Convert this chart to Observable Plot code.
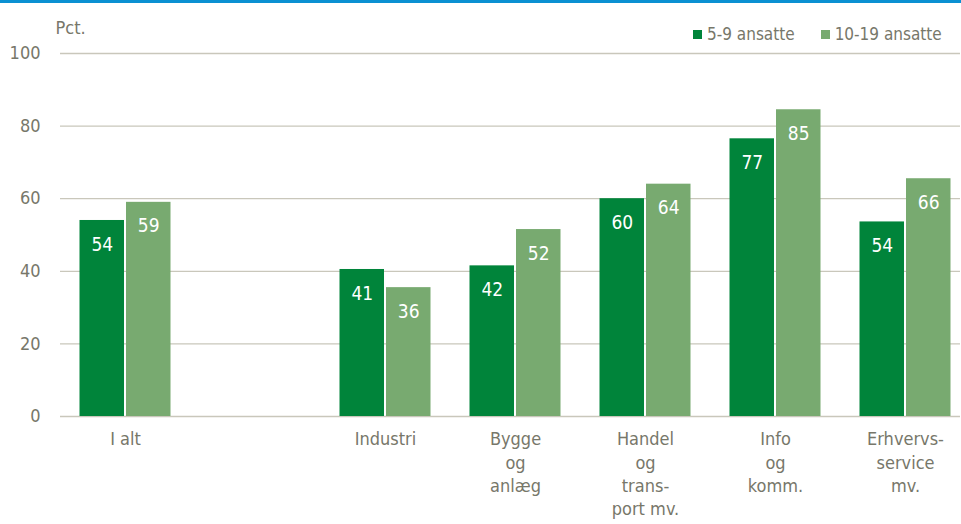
<!DOCTYPE html>
<html>
<head>
<meta charset="utf-8">
<script src="https://cdn.jsdelivr.net/npm/d3@7"></script>
<script src="https://cdn.jsdelivr.net/npm/@observablehq/plot@0.6"></script>
<style>
  html, body { margin: 0; padding: 0; background: #fff; }
  #wrap { position: relative; width: 961px; height: 524px; overflow: hidden;
    font-family: "Liberation Sans Narrow", "Arial Narrow", "DejaVu Sans Condensed", "Liberation Sans", sans-serif; }
  #topline { position: absolute; left: 0; top: 0; width: 961px; height: 3px; background: #0a90d2; }
  #legend { position: absolute; top: 24px; left: 693px; display: flex; align-items: center;
    font-size: 17px; color: #77776a; white-space: nowrap; }
  .sw { display: inline-block; width: 9px; height: 9px; margin-right: 5px; }
  .item { display: flex; align-items: center; margin-right: 26px; }
  svg { display: block; }
</style>
</head>
<body>
<div id="wrap">
  <div id="topline"></div>
  <div id="chart"></div>
  <div id="legend"></div>
</div>
<script>
const categories = ["I alt", "gap", "Industri", "Bygge og anlæg", "Handel og transport mv.", "Info og komm.", "Erhvervsservice mv."];
const tickLabels = ["I alt", "", "Industri", "Bygge\nog\nanlæg", "Handel\nog\ntrans-\nport mv.", "Info\nog\nkomm.", "Erhvervs-\nservice\nmv."];
const seriesNames = ["5-9 ansatte", "10-19 ansatte"];
const seriesColors = ["#00843a", "#78aa70"];
const values5to9 = [54, null, 40.5, 41.5, 60, 76.5, 53.6];
const values10to19 = [59, null, 35.5, 51.5, 64, 84.5, 65.5];
const yTicks = [0, 20, 40, 60, 80, 100];

const textColor = "#77776a";
const gridColor = "#c9c7bb";

const rows = (vals) => categories.map((c, i) => ({cat: c, v: vals[i]})).filter(d => d.v != null);
const dark = rows(values5to9);
const light = rows(values10to19);
const labelOf = new Map(categories.map((c, i) => [c, tickLabels[i]]));

const chart = Plot.plot({
  width: 961,
  height: 524,
  marginLeft: 60,
  marginRight: 1,
  marginTop: 53,
  marginBottom: 108,
  style: {fontFamily: "inherit", color: textColor, background: "transparent", overflow: "visible"},
  x: {domain: categories, range: [60, 970], padding: 0, axis: null},
  y: {domain: [0, 100], axis: null},
  marks: [
    Plot.ruleY(yTicks.filter(t => t > 0), {stroke: gridColor, strokeWidth: 1.3}),
    Plot.ruleY([0], {stroke: gridColor, strokeWidth: 1.6}),
    Plot.barY(dark, {x: "cat", y: "v", fill: seriesColors[0], insetLeft: 19.5, insetRight: 66}),
    Plot.barY(light, {x: "cat", y: "v", fill: seriesColors[1], insetLeft: 66, insetRight: 19.5}),
    Plot.text(dark, {x: "cat", y: "v", text: d => String(Math.round(d.v)), dx: -23.2, dy: 24, fill: "white", fontSize: 19, lineAnchor: "middle"}),
    Plot.text(light, {x: "cat", y: "v", text: d => String(Math.round(d.v)), dx: 23.2, dy: 24, fill: "white", fontSize: 19, lineAnchor: "middle"}),
    Plot.axisY({ticks: yTicks, tickSize: 0, tickPadding: 20, fontSize: 18, fill: textColor, label: null}),
    Plot.axisX({tickSize: 0, tickPadding: 12, fontSize: 18, fill: textColor, label: null, lineHeight: 1.3, tickFormat: d => labelOf.get(d)}),
    Plot.text(["Pct."], {frameAnchor: "top-left", dx: -5, dy: -20, textAnchor: "start", lineAnchor: "bottom", fontSize: 18, fill: textColor})
  ]
});
document.getElementById("chart").appendChild(chart);

const legend = document.getElementById("legend");
seriesNames.forEach((name, i) => {
  const item = document.createElement("span");
  item.className = "item";
  const sw = document.createElement("span");
  sw.className = "sw";
  sw.style.background = seriesColors[i];
  item.appendChild(sw);
  item.appendChild(document.createTextNode(name));
  legend.appendChild(item);
});
</script>
</body>
</html>
